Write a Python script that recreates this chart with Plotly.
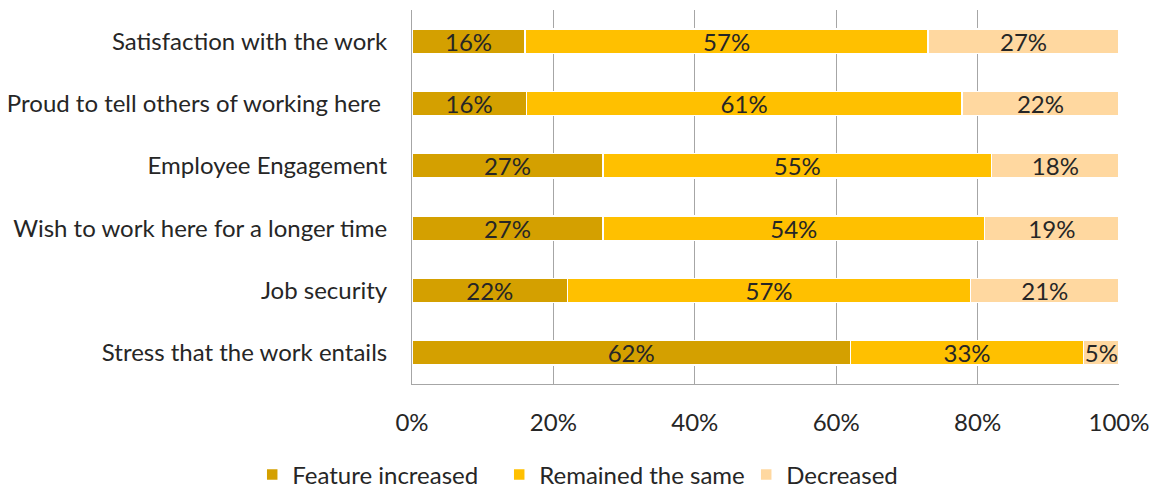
import plotly.graph_objects as go

categories = [
    "Satisfaction with the work",
    "Proud to tell others of working here ",
    "Employee Engagement",
    "Wish to work here for a longer time",
    "Job security",
    "Stress that the work entails",
]
feature_increased = [16, 16, 27, 27, 22, 62]
remained_same = [57, 61, 55, 54, 57, 33]
decreased = [27, 22, 18, 19, 21, 5]

series = [
    ("Feature increased", feature_increased, "#D4A000"),
    ("Remained the same", remained_same, "#FFC000"),
    ("Decreased", decreased, "#FFD8A0"),
]

FONT = "Lato, sans-serif"
TXT = "#262626"

fig = go.Figure()
for name, vals, color in series:
    fig.add_trace(go.Bar(
        name=name,
        y=categories,
        x=vals,
        orientation="h",
        marker=dict(color=color, line=dict(color="white", width=1.5)),
        text=[f"{v}%" for v in vals],
        textposition="inside",
        insidetextanchor="middle",
        textangle=0,
        textfont=dict(family=FONT, size=24, color=TXT),
        constraintext="none",
    ))

fig.update_layout(
    barmode="stack",
    barnorm="percent",
    bargap=0.61,
    width=1156,
    height=490,
    margin=dict(l=412, r=37, t=10, b=106, autoexpand=False),
    paper_bgcolor="white",
    plot_bgcolor="white",
    font=dict(family=FONT, size=24, color=TXT),
    legend=dict(
        orientation="h",
        x=-0.226, xanchor="left",
        y=-0.243, yanchor="middle",
        font=dict(family=FONT, size=24, color=TXT),
        itemwidth=30,
        entrywidth=202, entrywidthmode="pixels",
        traceorder="normal",
    ),
    showlegend=True,
)
fig.update_xaxes(
    range=[0, 100],
    tickvals=[0, 20, 40, 60, 80, 100],
    ticktext=["0%", "20%", "40%", "60%", "80%", "100%"],
    showgrid=True, gridcolor="#a6a6a6", gridwidth=1,
    showline=True, linecolor="#a6a6a6", linewidth=1,
    zeroline=False, automargin=False,
    ticks="", ticklabelstandoff=17,
    tickfont=dict(family=FONT, size=24, color=TXT),
)
fig.update_yaxes(
    autorange="reversed",
    showline=True, linecolor="#a6a6a6", linewidth=1,
    showgrid=False, automargin=False,
    ticks="", ticklabelstandoff=19,
    tickfont=dict(family=FONT, size=24, color=TXT),
)

fig.write_html("out.html")
